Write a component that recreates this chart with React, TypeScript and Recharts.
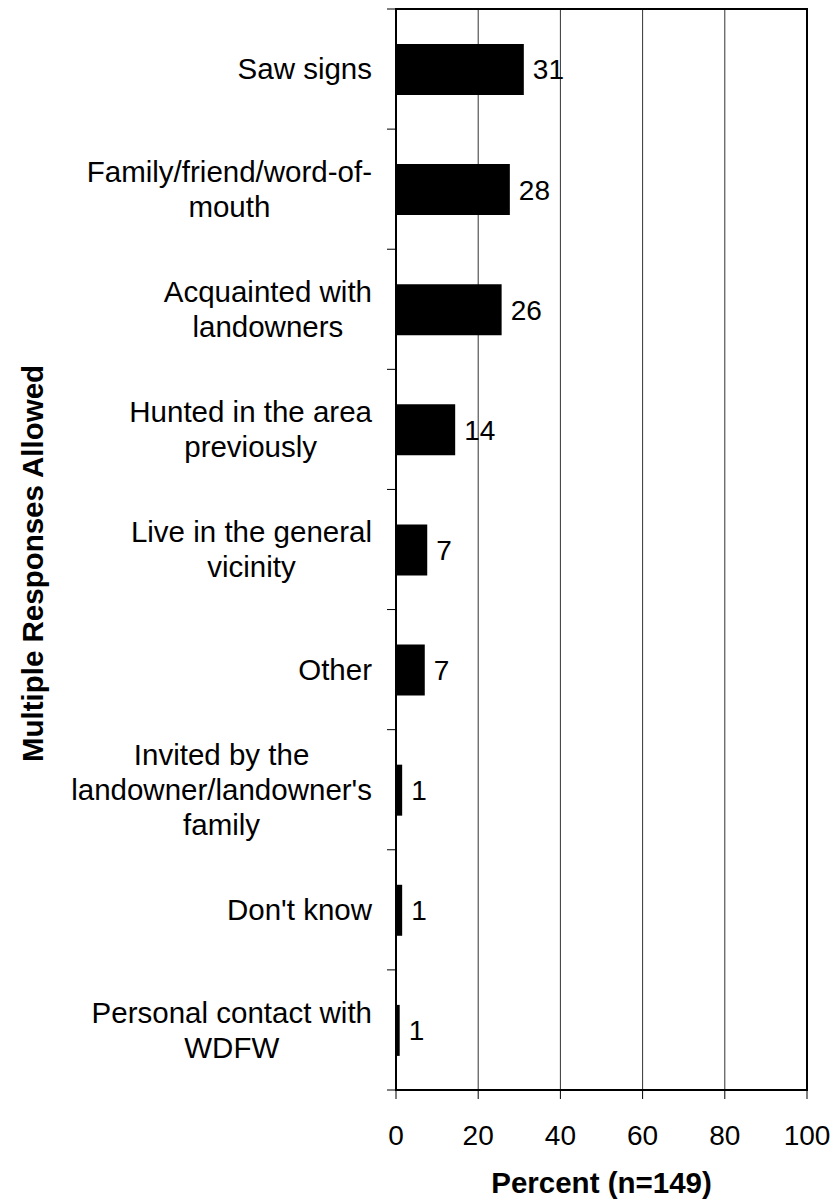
import React from "react";
import {
  BarChart,
  Bar,
  XAxis,
  YAxis,
  CartesianGrid,
  LabelList,
  ReferenceArea,
} from "recharts";

const categories = [
  "Saw signs",
  "Family/friend/word-of-\nmouth",
  "Acquainted with\nlandowners",
  "Hunted in the area\npreviously",
  "Live in the general\nvicinity",
  "Other",
  "Invited by the\nlandowner/landowner's\nfamily",
  "Don't know",
  "Personal contact with\nWDFW",
];

// bar lengths
const percents = [31.1, 27.7, 25.7, 14.4, 7.6, 7.0, 1.5, 1.5, 0.9];
// numbers printed next to the bars
const printed = [31, 28, 26, 14, 7, 7, 1, 1, 1];

const xTicks = [0, 20, 40, 60, 80, 100];

const data = categories.map((name, i) => ({
  name,
  value: percents[i],
  label: printed[i],
}));

const W = 833;
const H = 1202;
const TOP = 9;
const X_AXIS_H = 112;
const Y_AXIS_W = 396;
const FONT = "Arial, 'Liberation Sans', sans-serif";
const CAT_SIZE = 29.5;
const LINE_H = 35;
const TICK = 9;
const GAP = 15;

let ctx: CanvasRenderingContext2D | null = null;
function textWidth(s: string) {
  if (!ctx) {
    ctx = document.createElement("canvas").getContext("2d");
  }
  if (!ctx) return s.length * CAT_SIZE * 0.5;
  ctx.font = `${CAT_SIZE}px ${FONT}`;
  return ctx.measureText(s).width;
}

function CategoryTick(props: any) {
  const { x, y, payload, index } = props;
  const lines = String(payload.value).split("\n");
  const maxW = Math.max(...lines.map(textWidth));
  const cx = x - maxW / 2;
  const axisX = x + TICK + GAP;
  const band = (H - TOP - X_AXIS_H) / categories.length;
  const n = lines.length;
  return (
    <g>
      <line x1={axisX - TICK} x2={axisX} y1={y - band / 2} y2={y - band / 2} stroke="#000" />
      {index === categories.length - 1 && (
        <line x1={axisX - TICK} x2={axisX} y1={y + band / 2} y2={y + band / 2} stroke="#000" />
      )}
      <text textAnchor="middle" fontSize={CAT_SIZE} fontFamily={FONT} fill="#000">
        {lines.map((l, i) => (
          <tspan key={i} x={cx} y={y + (i - (n - 1) / 2) * LINE_H} dy="0.35em">
            {l}
          </tspan>
        ))}
      </text>
    </g>
  );
}

export default function App() {
  return (
    <div style={{ position: "absolute", left: 0, top: 0, background: "#fff" }}>
      <BarChart
        width={W}
        height={H}
        data={data}
        layout="vertical"
        margin={{ top: TOP, right: 26, bottom: 0, left: 0 }}
      >
        <CartesianGrid horizontal={false} stroke="#333" strokeWidth={1} />
        <XAxis
          type="number"
          domain={[0, 100]}
          ticks={xTicks}
          height={X_AXIS_H}
          tickSize={TICK}
          tickMargin={26}
          axisLine={{ stroke: "#000", strokeWidth: 2 }}
          tickLine={{ stroke: "#000" }}
          tick={{ fontSize: 28, fontFamily: FONT, fill: "#000" }}
          label={{
            content: ({ viewBox }: any) => (
              <text
                x={viewBox.x + viewBox.width / 2}
                y={viewBox.y + 103}
                textAnchor="middle"
                fontSize={29.5}
                fontWeight="bold"
                fontFamily={FONT}
                fill="#000"
              >
                Percent (n=149)
              </text>
            ),
          }}
        />
        <YAxis
          type="category"
          dataKey="name"
          width={Y_AXIS_W}
          tickSize={TICK}
          tickMargin={GAP}
          tickLine={false}
          axisLine={{ stroke: "#000", strokeWidth: 2 }}
          tick={<CategoryTick />}
          interval={0}
          label={{
            content: ({ viewBox }: any) => (
              <text
                x={43}
                y={viewBox.y + viewBox.height / 2 + 14}
                transform={`rotate(-90, 43, ${viewBox.y + viewBox.height / 2 + 14})`}
                textAnchor="middle"
                fontSize={29.5}
                fontWeight="bold"
                fontFamily={FONT}
                fill="#000"
              >
                Multiple Responses Allowed
              </text>
            ),
          }}
        />
        <ReferenceArea x1={0} x2={100} fill="none" stroke="#000" strokeWidth={2} ifOverflow="visible" />
        <Bar dataKey="value" fill="#000" barSize={51} isAnimationActive={false}>
          <LabelList
            dataKey="label"
            position="right"
            offset={9}
            fontSize={28}
            fontFamily={FONT}
            fill="#000"
          />
        </Bar>
      </BarChart>
    </div>
  );
}
